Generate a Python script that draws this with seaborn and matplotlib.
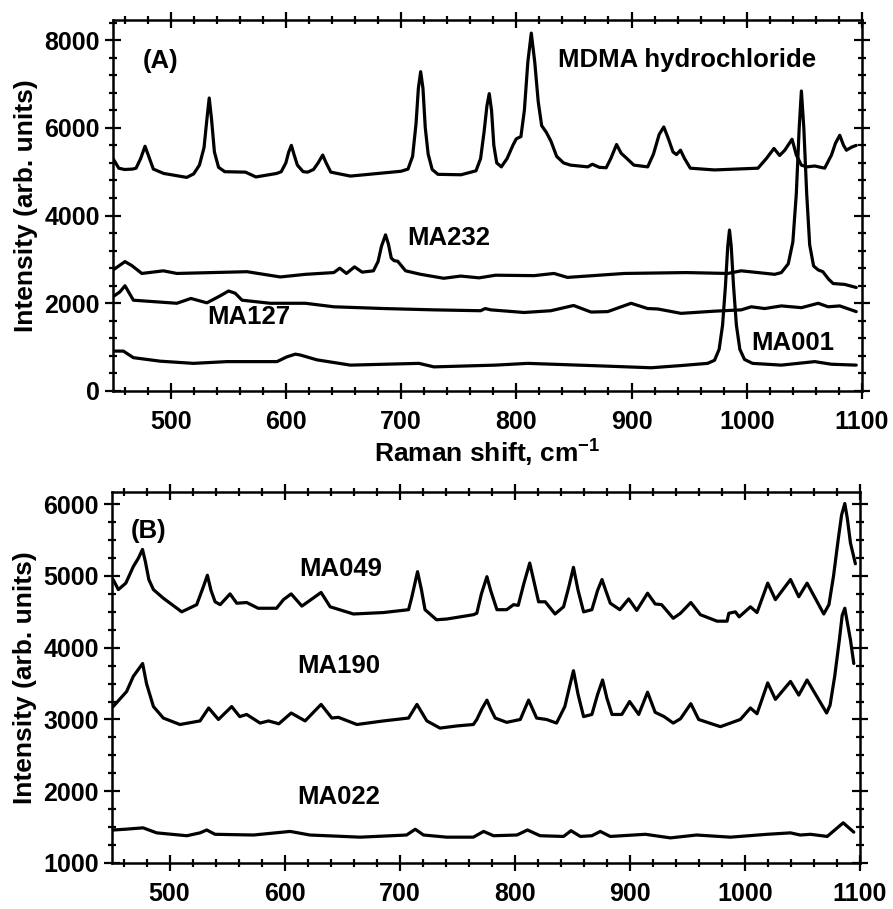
import matplotlib
matplotlib.use("Agg")
import matplotlib.pyplot as plt
from matplotlib.ticker import MultipleLocator
import seaborn as sns

# ---------------- Panel (A) data ----------------
mdma_x = [450, 455, 460, 467, 470, 474, 477.8, 481, 485, 494, 514, 520, 525, 529, 531.5, 533.5, 535.5, 538,
          541.6, 547, 565, 574, 592, 596, 600, 602.5, 604.8, 607, 610, 615, 619, 624, 628, 632, 635, 639,
          656, 700, 706, 710, 713, 715, 717, 719, 721, 723.5, 727, 732, 752, 765, 769, 772, 774.5, 776.5,
          778.5, 780.5, 783, 787, 792, 797, 800, 804, 807, 810, 813, 816, 819, 822, 826, 830, 835, 841, 847,
          862, 866, 872, 878, 882, 887, 891, 896, 902, 914, 919, 924, 928, 932, 936, 939, 942.5, 946, 951,
          972, 1009.7, 1017, 1023.6, 1028.5, 1033, 1039.3, 1043, 1047.4, 1052, 1059, 1067.6, 1073.5, 1077,
          1080.7, 1084, 1086.5, 1091, 1095]
mdma_y = [5300, 5080, 5050, 5060, 5080, 5300, 5580, 5350, 5060, 4960, 4870, 4950, 5150, 5550, 6200, 6680,
          6200, 5450, 5100, 5000, 4990, 4880, 4960, 5000, 5200, 5450, 5600, 5400, 5150, 5000, 4990, 5050,
          5200, 5380, 5200, 4990, 4900, 5010, 5060, 5350, 6100, 6900, 7280, 6900, 6000, 5400, 5050, 4940,
          4930, 5020, 5300, 5900, 6500, 6780, 6400, 5600, 5200, 5110, 5300, 5600, 5750, 5800, 6400, 7500,
          8160, 7500, 6600, 6050, 5900, 5700, 5350, 5200, 5150, 5110, 5170, 5100, 5090, 5300, 5620, 5420,
          5300, 5150, 5110, 5400, 5850, 6020, 5750, 5450, 5390, 5490, 5300, 5080, 5040, 5080, 5300, 5530,
          5370, 5490, 5740, 5380, 5150, 5110, 5130, 5080, 5380, 5650, 5830, 5600, 5490, 5560, 5600]

ma232_x = [450, 455, 460.4, 466.3, 475, 493.7, 505.4, 566.3, 595.2, 617, 641.6, 646.8, 652.6, 659.6, 666.2,
           676, 680, 683, 686.5, 689, 691.5, 694, 697, 703.9, 717, 737, 751.7, 767.7, 782, 815.3, 832.7,
           844.4, 893.8, 947.4, 983.6, 995.2, 1024.2, 1030, 1036, 1040, 1043, 1045.5, 1047.4, 1049.5, 1052,
           1054.6, 1058, 1062, 1066, 1071, 1075, 1085, 1095]
ma232_y = [2760, 2850, 2950, 2860, 2680, 2740, 2680, 2720, 2600, 2660, 2700, 2800, 2680, 2830, 2710, 2740,
           2950, 3300, 3560, 3350, 3030, 2970, 2960, 2740, 2660, 2570, 2620, 2580, 2640, 2630, 2680, 2590,
           2680, 2700, 2680, 2740, 2660, 2700, 2900, 3400, 4500, 6000, 6840, 6000, 4500, 3330, 2850, 2760,
           2720, 2550, 2450, 2430, 2360]

ma127_x = [450, 456, 460.4, 467.7, 505.4, 517.6, 531.5, 543, 550.3, 556, 562, 586.5, 617, 641.6, 685,
           728.5, 769, 773, 777.8, 806.8, 830, 849.7, 864.8, 879.3, 899.6, 914, 922.8, 943, 972, 995.2,
           1003.9, 1015.5, 1030, 1047.4, 1062, 1070.6, 1080.7, 1095]
ma127_y = [2150, 2260, 2400, 2070, 2000, 2110, 2010, 2170, 2280, 2230, 2070, 2000, 2000, 1920, 1880, 1850,
           1830, 1880, 1850, 1790, 1830, 1950, 1800, 1810, 2000, 1880, 1870, 1770, 1820, 1850, 1920, 1880,
           1940, 1900, 2000, 1920, 1940, 1810]

ma001_x = [450, 459, 467.7, 490.9, 519.8, 548.9, 592.3, 601, 608.3, 612.6, 627, 656, 715.5, 728.5, 782,
           809.8, 864.8, 917, 943, 966, 972, 976, 979, 981.5, 983.5, 985, 986.5, 988.5, 991, 994, 998, 1005,
           1030, 1059, 1073.5, 1095]
ma001_y = [910, 910, 760, 680, 630, 670, 670, 780, 840, 820, 710, 590, 630, 550, 590, 630, 580, 530, 580,
           630, 700, 950, 1500, 2400, 3300, 3670, 3300, 2400, 1500, 950, 720, 630, 590, 670, 610, 590]

# ---------------- Panel (B) data ----------------
ma049_x = [451, 455.5, 462, 468.5, 473, 476.5, 479, 482, 486, 494.6, 510.6, 523.6, 529.4, 532.9, 536,
           539.6, 544, 552.6, 558.4, 567, 577, 593, 599, 605.7, 615, 631.7, 639.6, 659.8, 685.9, 707.7,
           710.6, 715.5, 719, 722, 732, 741, 764, 767, 771, 775.8, 779, 784.5, 793, 799, 803, 808, 813, 817,
           820.7, 826.5, 835, 842.4, 847, 851, 855, 859.8, 867, 872, 875.8, 879, 883, 891.3, 899, 906,
           915.4, 922, 927.6, 937.7, 944, 953, 961.3, 975.8, 984.5, 986, 991.7, 995, 1004.8, 1010.5,
           1019.8, 1026.5, 1039.6, 1046.8, 1054, 1068.5, 1073, 1077, 1081, 1084, 1086.8, 1089, 1091.7, 1096]
ma049_y = [4950, 4810, 4900, 5130, 5250, 5370, 5200, 4950, 4810, 4690, 4500, 4600, 4850, 5010, 4800, 4640,
           4600, 4750, 4620, 4630, 4550, 4550, 4670, 4750, 4580, 4770, 4570, 4470, 4490, 4530, 4710, 5060,
           4800, 4530, 4390, 4400, 4460, 4480, 4750, 4990, 4800, 4530, 4530, 4600, 4590, 4900, 5180, 4900,
           4640, 4640, 4470, 4570, 4850, 5120, 4800, 4500, 4530, 4800, 4950, 4800, 4620, 4530, 4680, 4520,
           4760, 4610, 4600, 4410, 4480, 4630, 4460, 4370, 4370, 4480, 4500, 4430, 4570, 4490, 4900, 4670,
           4950, 4710, 4900, 4470, 4600, 5000, 5500, 5850, 6010, 5800, 5460, 5170]

ma190_x = [451, 462.7, 468.5, 473, 476.6, 480, 486, 494.6, 509, 526.5, 534, 542.5, 554, 561, 567, 578.7, 586,
           595, 605.7, 617.8, 631.7, 641, 646.7, 662.8, 686, 707.7, 715, 723.6, 735, 749.7, 764, 767, 771.5,
           775.8, 779, 783, 793, 804.8, 812, 819, 827.6, 836.3, 843.5, 847.5, 851, 855, 859.8, 867, 872,
           876.3, 880, 884.5, 893, 899.8, 907.7, 915.4, 922, 929.8, 937.7, 944, 953, 959.8, 972.9, 978.7,
           996, 1004.8, 1010.5, 1019.8, 1026.5, 1039.6, 1046.8, 1054, 1071, 1074, 1078, 1082, 1084.5,
           1086.8, 1089, 1091.7, 1094.6]
ma190_y = [3180, 3390, 3600, 3700, 3780, 3500, 3180, 3020, 2930, 2980, 3160, 3000, 3180, 3040, 3070, 2950,
           2980, 2940, 3090, 2980, 3210, 3020, 3030, 2930, 2980, 3020, 3210, 2980, 2880, 2910, 2930, 3000,
           3150, 3270, 3150, 3020, 2960, 3000, 3270, 3020, 3000, 2950, 3180, 3450, 3680, 3350, 3040, 3070,
           3350, 3550, 3300, 3070, 3070, 3250, 3070, 3380, 3100, 3040, 2950, 3010, 3220, 3000, 2930, 2900,
           3000, 3160, 3080, 3510, 3280, 3530, 3340, 3550, 3090, 3200, 3600, 4100, 4450, 4550, 4350, 4110,
           3780]

ma022_x = [451, 461, 477, 488.8, 515, 526.5, 532.3, 539.6, 572.9, 604.8, 622, 665.6, 706, 713.5, 720.7,
           741, 764, 772.9, 781.6, 801.9, 811, 822, 842.4, 848.9, 857, 867, 874.3, 883, 913.5, 935.2, 958,
           987.4, 1019.3, 1039.6, 1048, 1057, 1071.5, 1085.4, 1094.6]
ma022_y = [1460, 1470, 1490, 1420, 1380, 1420, 1460, 1400, 1390, 1440, 1390, 1360, 1390, 1470, 1390, 1360,
           1360, 1440, 1380, 1390, 1460, 1380, 1370, 1450, 1370, 1380, 1440, 1370, 1400, 1350, 1390, 1360,
           1400, 1420, 1390, 1400, 1370, 1560, 1430]

x_tick_labels = ["500", "600", "700", "800", "900", "1000", "1100"]

# ---------------- styling ----------------
sns.set_style("ticks")
plt.rcParams["font.family"] = ["Liberation Sans", "DejaVu Sans"]
plt.rcParams["font.weight"] = "bold"
for k in ["text.color", "axes.labelcolor", "xtick.color", "ytick.color", "axes.edgecolor"]:
    plt.rcParams[k] = "black"
plt.rcParams["mathtext.fontset"] = "custom"
plt.rcParams["mathtext.rm"] = "Liberation Sans:bold"
plt.rcParams["mathtext.bf"] = "Liberation Sans:bold"
plt.rcParams["mathtext.default"] = "bf"

W, H = 893, 909
fig = plt.figure(figsize=(W / 100, H / 100), dpi=100)
ax1 = fig.add_axes([113 / W, 1 - 391 / H, (862 - 113) / W, (391 - 19.5) / H])
ax2 = fig.add_axes([112 / W, 1 - 863 / H, (860 - 112) / W, (863 - 492) / H])

LW = 2.3
for xs, ys in [(mdma_x, mdma_y), (ma232_x, ma232_y), (ma127_x, ma127_y), (ma001_x, ma001_y)]:
    sns.lineplot(x=xs, y=ys, ax=ax1, color="black", linewidth=LW, estimator=None, sort=False)
for xs, ys in [(ma049_x, ma049_y), (ma190_x, ma190_y), (ma022_x, ma022_y)]:
    sns.lineplot(x=xs, y=ys, ax=ax2, color="black", linewidth=LW, estimator=None, sort=False)

xticks = [float(t) for t in x_tick_labels]
for ax, ylim, ymaj, ymin in [(ax1, (0, 8470), 2000, 400), (ax2, (1000, 6170), 1000, 250)]:
    ax.set_xlim(450, 1100)
    ax.set_ylim(*ylim)
    ax.set_xticks(xticks)
    ax.set_xticklabels(x_tick_labels)
    ax.xaxis.set_minor_locator(MultipleLocator(20))
    ax.yaxis.set_major_locator(MultipleLocator(ymaj))
    ax.yaxis.set_minor_locator(MultipleLocator(ymin))
    ax.tick_params(which="both", direction="inout", top=True, right=True, width=1.6, colors="black")
    ax.tick_params(which="major", length=11, labelsize=18, pad=4)
    ax.tick_params(which="minor", length=6)
    ax.tick_params(axis="x", which="major", pad=8)
    for s in ax.spines.values():
        s.set_linewidth(1.8)
        s.set_color("black")
    for lab in ax.get_xticklabels() + ax.get_yticklabels():
        lab.set_fontweight("bold")
    ax.set_ylabel("Intensity (arb. units)", fontsize=19, fontweight="bold", color="black")
    ax.yaxis.set_label_coords(-0.10, 0.5)

ax1.set_xlabel(r"Raman shift, cm$^{-1}$", fontsize=19, fontweight="bold", labelpad=3, color="black")
ax2.set_xlabel("")

txt = dict(fontsize=18.5, fontweight="bold", color="black", va="center", ha="left")
ax1.text(476, 7520, "(A)", **txt)
ax1.text(836, 7540, "MDMA hydrochloride", **txt)
ax1.text(705, 3490, "MA232", **txt)
ax1.text(532, 1690, "MA127", **txt)
ax1.text(1004, 1100, "MA001", **txt)
ax2.text(466, 5630, "(B)", **txt)
ax2.text(613, 5100, "MA049", **txt)
ax2.text(611, 3750, "MA190", **txt)
ax2.text(611, 1920, "MA022", **txt)

fig.savefig("out.png", dpi=100, facecolor="white")
